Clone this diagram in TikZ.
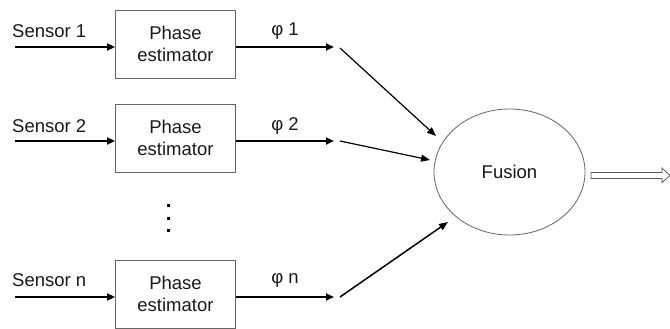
\documentclass[tikz,border=0pt]{standalone}
\usepackage{fontspec}
\setmainfont{Liberation Sans}
\usetikzlibrary{arrows.meta,shapes.geometric}
\begin{document}
\begin{tikzpicture}[x=1pt,y=-1pt,
  every node/.style={font=\fontsize{18.5}{23}\selectfont, text=black!90},
  estbox/.style={draw=black!60, line width=0.9pt, minimum width=120pt, minimum height=68pt, align=center, inner sep=0pt},
  thick arrow/.style={line width=2pt, -{Triangle[length=8pt,width=7pt]}},
  thin arrow/.style={line width=1.2pt, -{Triangle[length=9pt,width=7pt]}},
  lbl/.style={inner sep=0pt},
  dot/.style={fill=black, minimum size=3pt, inner sep=0pt}
]
\useasboundingbox (0,0) rectangle (670,329);
% boxes
\node[estbox] (b1) at (175.5,44) {Phase\\[-1pt]estimator};
\node[estbox] (b2) at (175.5,138) {Phase\\[-1pt]estimator};
\node[estbox] (bn) at (175.5,294) {Phase\\[-1pt]estimator};
% sensor inputs
\coordinate (s1) at (15,47);
\coordinate (s2) at (15,141);
\coordinate (sn) at (15,297);
\draw[thick arrow] (s1) -- (s1 -| b1.west);
\draw[thick arrow] (s2) -- (s2 -| b2.west);
\draw[thick arrow] (sn) -- (sn -| bn.west);
\node[lbl, anchor=west] (ls1) at (12,31) {Sensor 1};
\node[lbl, anchor=west] (ls2) at (12,126) {Sensor 2};
\node[lbl, anchor=west] (lsn) at (12,280) {Sensor n};
% outputs
\coordinate (o1) at (334,47);
\coordinate (o2) at (334,141);
\coordinate (on) at (334,297);
\draw[thick arrow] (o1 -| b1.east) -- (o1);
\draw[thick arrow] (o2 -| b2.east) -- (o2);
\draw[thick arrow] (on -| bn.east) -- (on);
\node[lbl] (p1) at (285,31) {φ 1};
\node[lbl] (p2) at (285,126) {φ 2};
\node[lbl] (pn) at (285,280) {φ n};
% dots
\node[dot] (d1) at (168,205) {};
\node[dot] (d2) at (168,218) {};
\node[dot] (d3) at (168,230) {};
% fusion
\node[draw=black!60, line width=0.8pt, ellipse, minimum width=151pt, minimum height=126pt, inner sep=0pt] (f) at (509.5,172) {Fusion};
% diagonal arrows
\coordinate (a1) at (340,48);
\coordinate (a2) at (340,141);
\coordinate (an) at (340,297);
\coordinate (e1) at (436,136);
\coordinate (e2) at (430,160);
\coordinate (en) at (448,222);
\draw[thin arrow] (a1) -- (e1);
\draw[thin arrow] (a2) -- (e2);
\draw[thin arrow, line width=1.5pt] (an) -- (en);
% hollow output arrow
\coordinate (out) at (591,175.5);
\draw[black!65, line width=0.8pt, fill=white] (out) ++(0,-3) -- ++(71,0) -- ++(0,-4.5) -- (670,175.5) -- (662,182.5) -- ++(0,-4) -- (591,178.5) -- cycle;
\end{tikzpicture}
\end{document}
